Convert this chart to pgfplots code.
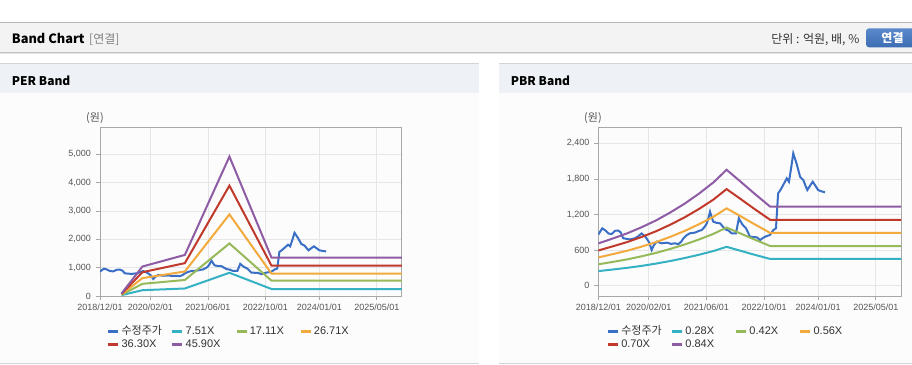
\documentclass[border=0pt]{standalone}
\usepackage{pgfplots}
\usepackage{pgfplotstable}
\pgfplotsset{compat=1.18}
\usepackage{fontspec}
\setmainfont{Liberation Sans}
\newfontfamily\kr{Noto Sans CJK KR}
\definecolor{hdrbg}{HTML}{F3F3F3}
\definecolor{topline}{HTML}{B8B8B8}
\definecolor{shadowa}{HTML}{C4C4C4}
\definecolor{shadowb}{HTML}{E4E4E4}
\definecolor{panelhdr}{HTML}{EEF2F7}
\definecolor{panelline}{HTML}{D4D4D4}
\definecolor{panelbody}{HTML}{FCFCFD}
\definecolor{btn}{HTML}{3C6CB2}
\definecolor{btntop}{HTML}{5A89CC}
\definecolor{gridc}{HTML}{E6E6E6}
\definecolor{axisc}{HTML}{A8A8A8}
\definecolor{tickc}{HTML}{555555}
\definecolor{legc}{HTML}{333333}
\definecolor{pricec}{HTML}{3A6FC6}
\definecolor{tealc}{HTML}{35B1C4}
\definecolor{greenc}{HTML}{96BA5A}
\definecolor{orangec}{HTML}{F2AA3C}
\definecolor{redc}{HTML}{C0392B}
\definecolor{purplec}{HTML}{8E5BA5}

\pgfplotstableread{
m v
0 860
0.5 910
1.1 967
2 930
2.8 880
3.7 870
4.6 925
5.5 930
6.2 900
6.9 800
7.8 790
8.8 780
10.2 800
11 830
12 880
12.8 840
13.4 798
14.2 720
14.8 601
15.4 680
16.2 742
17.6 714
19 725
20.2 705
21.3 714
22.2 700
23 740
23.6 798
24.5 850
25.4 883
26.8 894
27.8 920
28.7 939
29.5 990
30.1 1051
30.6 1150
31 1248
31.5 1150
31.9 1079
32.8 1060
33.8 1051
34.5 1000
35.2 950
36.1 930
37 883
38.2 883
39 1136
39.5 1080
40.1 1023
41 967
42.1 826
43 820
44 815
44.9 770
45.6 800
46.3 826
47.6 854
48.6 939
49.3 967
49.9 1557
50.6 1620
51.3 1697
52.3 1810
52.9 1753
53.5 1980
54.1 2231
55 2063
56 1837
56.9 1781
57.4 1700
58 1613
58.8 1690
59.5 1753
60.2 1690
61 1613
62 1590
62.9 1574
}\price

\newcommand\legtxt[1]{\makebox[47.5pt][l]{\vphantom{Xg}\smash{#1}}}

\pgfplotsset{
 band/.style={
  scale only axis, width=302pt, height=168pt, anchor=south west,
  xmin=0, xmax=84,
  xtick={0,14,30,46,61,77},
  xticklabels={2018/12/01,2020/02/01,2021/06/01,2022/10/01,2024/01/01,2025/05/01},
  xmajorgrids, ymajorgrids,
  major grid style={draw=gridc, line width=0.7pt},
  axis line style={draw=axisc, line width=1pt},
  tick style={draw=axisc, line width=0.7pt},
  tick align=outside, major tick length=4pt,
  xtick pos=bottom, ytick pos=left,
  ticklabel style={font=\fontsize{9}{10}\selectfont, text=tickc},
  yticklabel style={xshift=-1.5pt},
  /pgf/number format/assume math mode=true,
  /pgf/number format/1000 sep={,},
  scaled y ticks=false,
  legend columns=4,
  legend cell align=left,
  legend style={draw=none, fill=none, inner sep=0pt, outer sep=0pt, anchor=north west,
    font=\fontsize{11}{13}\selectfont, text=legc, row sep=0pt, cells={anchor=west}},
  legend image code/.code={\draw[#1, line width=2.6pt] (0pt,0pt) -- (10pt,0pt);},
 }
}

\begin{document}
\begin{tikzpicture}[x=1pt,y=1pt]
\useasboundingbox (0,0) rectangle (912,364);
\fill[white] (0,0) rectangle (912,364);
% header bar
\fill[hdrbg] (0,311) rectangle (912,341.7);
\draw[topline, line width=1pt] (0,341.7) -- (912,341.7);
\draw[shadowa, line width=1pt] (0,311) -- (912,311);
\draw[shadowb, line width=1pt] (0,310) -- (912,310);
\node[anchor=base west, inner sep=0pt, font=\kr\bfseries\fontsize{12.8}{14}\selectfont] at (11.7,320.7) {Band Chart};
\node[anchor=base west, inner sep=0pt, text=gray, font=\kr\fontsize{12}{14}\selectfont] at (89,320.7) {[연결]};
\node[anchor=base east, inner sep=0pt, text=legc, font=\kr\fontsize{12}{14}\selectfont] at (859.5,320.7) {단위 : 억원, 배, \%};
\shade[top color=btntop, bottom color=btn, rounded corners=3pt] (866,316.7) rectangle (918,335.7);
\node[anchor=base, inner sep=0pt, text=white, font=\kr\bfseries\fontsize{12}{14}\selectfont] at (892.5,321) {연결};
% panels
\foreach \a/\b in {0/479, 499/912} {
  \fill[panelbody] (\a,0) rectangle (\b,300);
  \fill[panelhdr] (\a,271.3) rectangle (\b,300);
  \draw[panelline, line width=1pt] (\a,300) -- (\b,300);
  \draw[panelline, line width=1pt] (\a,1) -- (\b,1);
}
\node[anchor=base west, inner sep=0pt, font=\kr\bfseries\fontsize{12}{14}\selectfont] at (11.7,278) {PER Band};
\node[anchor=base west, inner sep=0pt, font=\kr\bfseries\fontsize{12}{14}\selectfont] at (510.7,278) {PBR Band};

% PER axis
\begin{axis}[band, at={(100pt,68pt)},
  ymin=0, ymax=5930, ytick={0,1000,2000,3000,4000,5000},
  legend style={at={(0.0232,-0.172)}}]
\addplot[pricec, line width=2pt] table[x=m,y=v] {\price};
\addlegendentry{\legtxt{\kr 수정주가}}
\addplot[tealc, line width=2pt] coordinates {(6,30) (11.8,205) (23.6,265) (36,820) (47.7,247) (84,247)};
\addlegendentry{\legtxt{7.51X}}
\addplot[greenc, line width=2pt] coordinates {(6,45) (11.8,430) (23.6,565) (36,1855) (47.7,541) (84,541)};
\addlegendentry{\legtxt{17.11X}}
\addplot[orangec, line width=2pt] coordinates {(6,60) (11.8,630) (23.6,865) (36,2880) (47.7,789) (84,789)};
\addlegendentry{\legtxt{26.71X}}
\addplot[redc, line width=2pt] coordinates {(6,75) (11.8,840) (23.6,1160) (36,3895) (47.7,1071) (84,1071)};
\addlegendentry{\legtxt{36.30X}}
\addplot[purplec, line width=2pt] coordinates {(6,90) (11.8,1040) (23.6,1450) (36,4920) (47.7,1354) (84,1354)};
\addlegendentry{\legtxt{45.90X}}
\end{axis}
\node[text=tickc, font=\kr\fontsize{11}{12}\selectfont] at (95,246) {(원)};

% PBR axis
\begin{axis}[band, at={(598.3pt,68pt)}, width=302.7pt,
  ymin=-175, ymax=2660, ytick={0,600,1200,1800,2400},
  legend style={at={(0.0277,-0.172)}}]
\addplot[pricec, line width=2pt] table[x=m,y=v] {\price};
\addlegendentry{\legtxt{\kr 수정주가}}
\addplot[tealc, line width=2pt] coordinates {(0,245) (4,272) (8,300) (12,333) (16,372) (20,416) (24,466) (28,522) (32,585) (35.6,655) (39,596) (43,527) (47.7,450) (84,450)};
\addlegendentry{\legtxt{0.28X}}
\addplot[greenc, line width=2pt] coordinates {(0,360) (4,400) (8,443) (12,495) (16,552) (20,620) (24,695) (28,780) (32,875) (35.6,980) (39,892) (43,787) (47.7,668) (84,668)};
\addlegendentry{\legtxt{0.42X}}
\addplot[orangec, line width=2pt] coordinates {(0,476) (4,531) (8,589) (12,658) (16,734) (20,824) (24,924) (28,1038) (32,1164) (35.6,1304) (39,1188) (43,1048) (47.7,889) (84,889)};
\addlegendentry{\legtxt{0.56X}}
\addplot[redc, line width=2pt] coordinates {(0,593) (4,663) (8,735) (12,821) (16,917) (20,1029) (24,1154) (28,1296) (32,1454) (35.6,1629) (39,1483) (43,1308) (47.7,1110) (84,1110)};
\addlegendentry{\legtxt{0.70X}}
\addplot[purplec, line width=2pt] coordinates {(0,712) (4,795) (8,882) (12,985) (16,1100) (20,1235) (24,1385) (28,1555) (32,1745) (35.6,1955) (39,1780) (43,1570) (47.7,1332) (84,1332)};
\addlegendentry{\legtxt{0.84X}}
\end{axis}
\node[text=tickc, font=\kr\fontsize{11}{12}\selectfont] at (593,246) {(원)};
\end{tikzpicture}
\end{document}
